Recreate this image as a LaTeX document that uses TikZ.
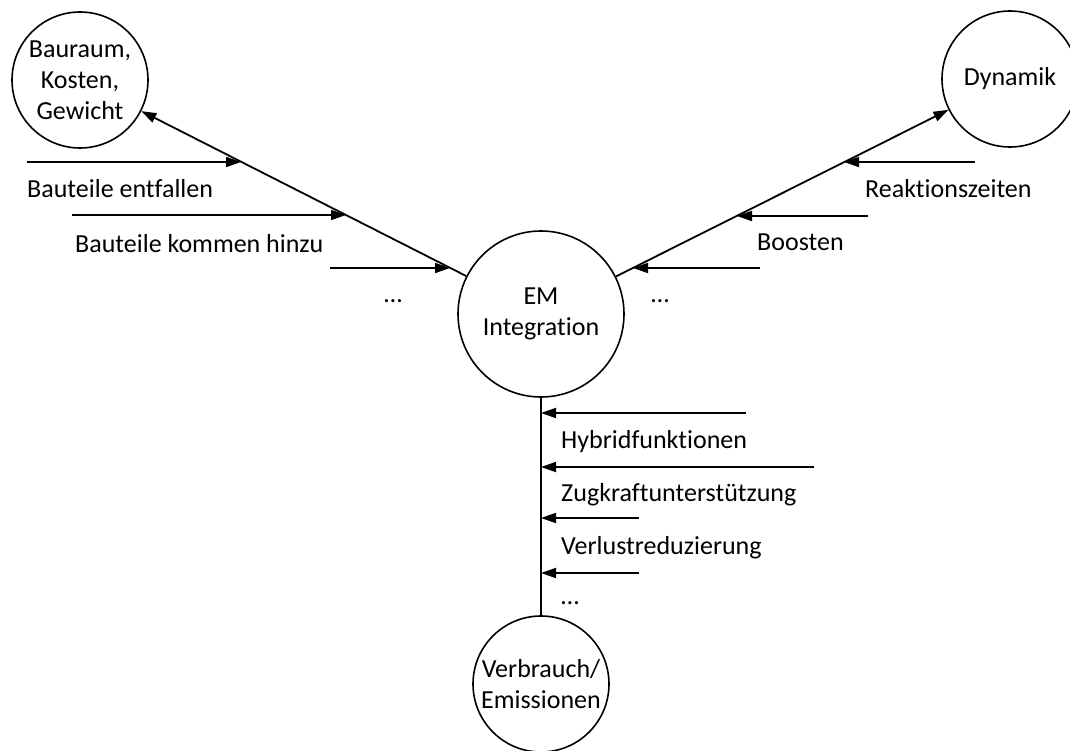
\documentclass[tikz,border=0pt]{standalone}
\usepackage{fontspec}
\setmainfont{Carlito}[Ligatures={NoCommon}]
\usetikzlibrary{arrows.meta}
\begin{document}
\begin{tikzpicture}[x=1pt,y=-1pt,
  every node/.style={font=\fontsize{26}{31}\selectfont},
  ring/.style={draw,circle,line width=1.6pt,inner sep=0pt,align=center},
  link/.style={line width=1.8pt},
  feed/.style={line width=1.8pt,-{Triangle[length=15pt,width=10pt]}},
  lbl/.style={anchor=base west,inner sep=0pt}]
\useasboundingbox (0,0) rectangle (1070,751);

% goal circles
\node[ring,minimum size=166] (em)  at (541,314) {EM\\Integration};
\node[ring,minimum size=136] (bau) at (80,80)   {Bauraum,\\Kosten,\\Gewicht};
\node[ring,minimum size=136] (dyn) at (1010,79) {Dynamik};
\node[ring,minimum size=136] (ver) at (541,684) {Verbrauch/\\Emissionen};

% main connections
\draw[feed] (em) -- (bau);
\draw[feed] (em) -- (dyn);
\draw[link] (em) -- (ver);

% left branch: inputs
\coordinate (l1s) at (27,162);  \coordinate (l1e) at (241,162);
\coordinate (l2s) at (72,215);  \coordinate (l2e) at (346,215);
\coordinate (l3s) at (330,268); \coordinate (l3e) at (450,268);
\draw[feed] (l1s) -- (l1e);
\draw[feed] (l2s) -- (l2e);
\draw[feed] (l3s) -- (l3e);
\node[lbl] (t1) at (27,198)  {Bauteile entfallen};
\node[lbl] (t2) at (75,252)  {Bauteile kommen hinzu};
\node[lbl] (t3) at (384,302) {\dots};

% right branch: inputs
\coordinate (r1s) at (975,162); \coordinate (r1e) at (844,162);
\coordinate (r2s) at (868,216); \coordinate (r2e) at (737,216);
\coordinate (r3s) at (760,268); \coordinate (r3e) at (633,268);
\draw[feed] (r1s) -- (r1e);
\draw[feed] (r2s) -- (r2e);
\draw[feed] (r3s) -- (r3e);
\node[lbl] (t4) at (865,198) {Reaktionszeiten};
\node[lbl] (t5) at (757,251) {Boosten};
\node[lbl] (t6) at (651,302) {\dots};

% lower branch: inputs
\coordinate (d1s) at (746,413); \coordinate (d1e) at (541,413);
\coordinate (d2s) at (814,467); \coordinate (d2e) at (541,467);
\coordinate (d3s) at (639,518); \coordinate (d3e) at (541,518);
\coordinate (d4s) at (639,573); \coordinate (d4e) at (541,573);
\draw[feed] (d1s) -- (d1e);
\draw[feed] (d2s) -- (d2e);
\draw[feed] (d3s) -- (d3e);
\draw[feed] (d4s) -- (d4e);
\node[lbl] (t7)  at (561,448) {Hybridfunktionen};
\node[lbl] (t8)  at (561,501) {Zugkraftunterstützung};
\node[lbl] (t9)  at (561,554) {Verlustreduzierung};
\node[lbl] (t10) at (561,604) {\dots};
\end{tikzpicture}
\end{document}
